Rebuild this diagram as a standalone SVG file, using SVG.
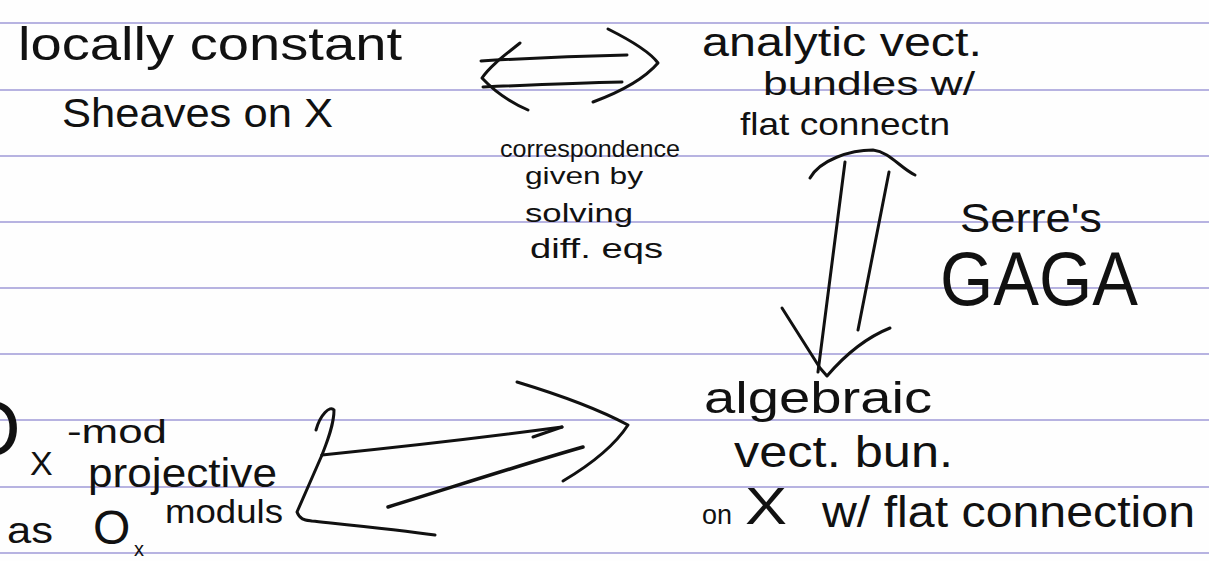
<svg xmlns="http://www.w3.org/2000/svg" width="1209" height="561" viewBox="0 0 1209 561">
  <style>
    .rule { stroke: #aba7dc; stroke-width: 2; opacity: 0.85; }
    .ink { fill: #111; font-family: "Liberation Sans", "DejaVu Sans", sans-serif; }
    .pen { fill: none; stroke: #111; stroke-width: 3; stroke-linecap: round; stroke-linejoin: round; }
  </style>

  <!-- notebook paper -->
  <rect width="1209" height="561" fill="#fefefe"/>
  <g id="ruling">
    <line class="rule" x1="0" y1="23" x2="1209" y2="23"/>
    <line class="rule" x1="0" y1="90" x2="1209" y2="90"/>
    <line class="rule" x1="0" y1="156" x2="1209" y2="156"/>
    <line class="rule" x1="0" y1="222" x2="1209" y2="222"/>
    <line class="rule" x1="0" y1="288" x2="1209" y2="288"/>
    <line class="rule" x1="0" y1="354" x2="1209" y2="354"/>
    <line class="rule" x1="0" y1="420" x2="1209" y2="420"/>
    <line class="rule" x1="0" y1="487" x2="1209" y2="487"/>
    <line class="rule" x1="0" y1="553" x2="1209" y2="553"/>
  </g>

  <!-- top left: local systems -->
  <g id="node-local-systems" class="ink">
    <text x="18" y="60" font-size="46" textLength="384" lengthAdjust="spacingAndGlyphs">locally constant</text>
    <text x="62" y="127" font-size="40" textLength="271" lengthAdjust="spacingAndGlyphs">Sheaves on X</text>
  </g>

  <!-- top right: analytic bundles -->
  <g id="node-analytic" class="ink">
    <text x="702" y="56" font-size="40" textLength="280" lengthAdjust="spacingAndGlyphs">analytic vect.</text>
    <text x="763" y="95" font-size="33" textLength="212" lengthAdjust="spacingAndGlyphs">bundles w/</text>
    <text x="740" y="135" font-size="32" textLength="210" lengthAdjust="spacingAndGlyphs">flat connectn</text>
  </g>

  <!-- bottom right: algebraic bundles -->
  <g id="node-algebraic" class="ink">
    <text x="704" y="413" font-size="44" textLength="228" lengthAdjust="spacingAndGlyphs">algebraic</text>
    <text x="734" y="467" font-size="44" textLength="219" lengthAdjust="spacingAndGlyphs">vect. bun.</text>
    <text x="702" y="524" font-size="28" textLength="30" lengthAdjust="spacingAndGlyphs">on</text>
    <text x="745" y="524" font-size="52" textLength="42" lengthAdjust="spacingAndGlyphs">X</text>
    <text x="822" y="527" font-size="44" textLength="373" lengthAdjust="spacingAndGlyphs">w/ flat connection</text>
  </g>

  <!-- bottom left: projective modules -->
  <g id="node-modules" class="ink">
    <text x="-40" y="455" font-size="78">O</text>
    <text x="30" y="475" font-size="34">X</text>
    <text x="67" y="443" font-size="34" textLength="100" lengthAdjust="spacingAndGlyphs">-mod</text>
    <text x="88" y="487" font-size="40" textLength="189" lengthAdjust="spacingAndGlyphs">projective</text>
    <text x="7" y="543" font-size="36" textLength="46" lengthAdjust="spacingAndGlyphs">as</text>
    <text x="93" y="544" font-size="48">O</text>
    <text x="134" y="556" font-size="20">x</text>
    <text x="165" y="523" font-size="34" textLength="118" lengthAdjust="spacingAndGlyphs">moduls</text>
  </g>

  <!-- edge labels -->
  <g id="label-correspondence" class="ink">
    <text x="500" y="157" font-size="24" textLength="180" lengthAdjust="spacingAndGlyphs">correspondence</text>
    <text x="525" y="184" font-size="24" textLength="118" lengthAdjust="spacingAndGlyphs">given by</text>
    <text x="525" y="222" font-size="26" textLength="108" lengthAdjust="spacingAndGlyphs">solving</text>
    <text x="530" y="258" font-size="28" textLength="133" lengthAdjust="spacingAndGlyphs">diff. eqs</text>
  </g>

  <g id="label-gaga" class="ink">
    <text x="960" y="232" font-size="40" textLength="142" lengthAdjust="spacingAndGlyphs">Serre's</text>
    <text x="940" y="305" font-size="76" textLength="198" lengthAdjust="spacingAndGlyphs">GAGA</text>
  </g>

  <!-- arrows -->
  <g id="connectors" class="pen">
    <!-- local systems <=> analytic bundles -->
    <path d="M481,61 C530,58 580,56 627,55"/>
    <path d="M483,87 C530,85 580,83 622,82"/>
    <path d="M608,29 C630,40 650,52 658,63 C645,78 620,92 593,102"/>
    <path d="M520,43 C505,55 490,66 482,78 C495,92 512,103 528,110"/>

    <!-- analytic <=> algebraic (GAGA) -->
    <path d="M810,178 C820,160 850,150 873,150 C890,152 900,168 915,175"/>
    <path d="M845,162 L818,372"/>
    <path d="M889,172 L858,330"/>
    <path d="M782,308 L820,368 L827,376 C845,355 865,338 890,328"/>

    <!-- projective modules <=> algebraic bundles -->
    <path d="M316,430 C320,415 330,405 334,410 C334,425 327,442 322,455"/>
    <path d="M322,455 C400,447 480,438 562,427"/>
    <path d="M533,437 L562,427"/>
    <path d="M322,455 L297,512 C300,520 305,520 312,521 C350,525 400,530 435,535"/>
    <path d="M388,507 C450,488 520,465 583,447" stroke-width="3.5"/>
    <path d="M517,382 C560,395 600,410 628,425 C615,445 590,465 563,481"/>
  </g>
</svg>
